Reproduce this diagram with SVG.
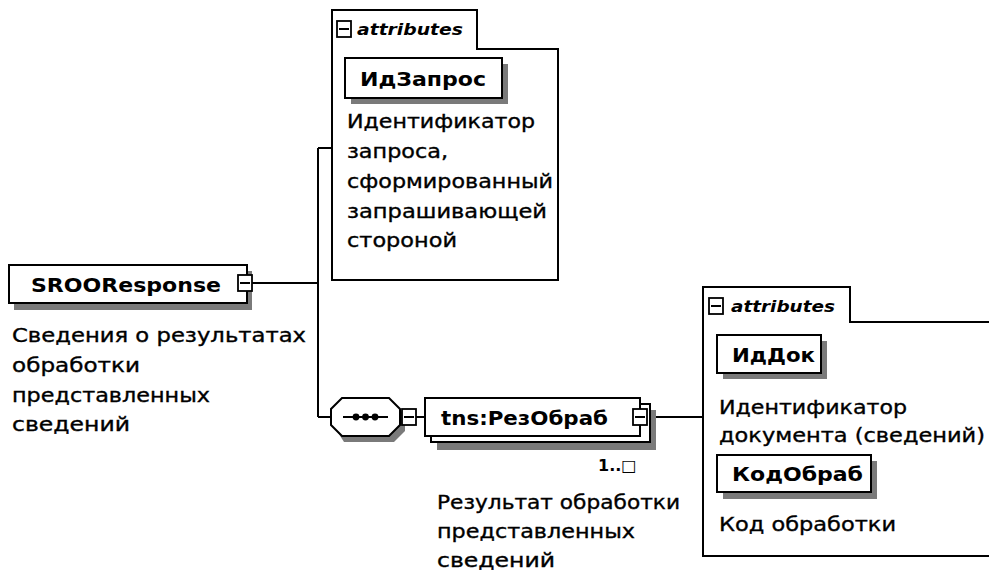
<svg xmlns="http://www.w3.org/2000/svg" width="989" height="587" viewBox="0 0 989 587">
<style>
.box{fill:#fff;stroke:#000;stroke-width:2}
.frame{fill:#fff;stroke:#000;stroke-width:2}
.shadow{fill:#7a7a7a}
.ln{stroke:#000;stroke-width:2;fill:none}
.icon{fill:#fff;stroke:#000;stroke-width:1.8}
.name{font-family:"DejaVu Sans",Verdana,sans-serif;font-weight:bold;font-size:20px;fill:#000}
.desc{font-family:"DejaVu Sans",Verdana,sans-serif;font-size:19px;fill:#000;stroke:#000;stroke-width:0.35}
.attr{font-family:"DejaVu Sans",Verdana,sans-serif;font-style:italic;font-weight:bold;font-size:15px;fill:#000}
.occ{font-family:"DejaVu Sans",Verdana,sans-serif;font-weight:bold;font-size:16px;fill:#000}
</style>
<defs>
<g id="minus">
<rect class="icon" x="0" y="0" width="14" height="16"/>
<line x1="2" y1="8" x2="12" y2="8" stroke="#000" stroke-width="2"/>
</g>
</defs>
<rect width="989" height="587" fill="#fff"/>

<g id="connectors">
<line class="ln" x1="252" y1="283" x2="318" y2="283"/>
<line class="ln" x1="318" y1="148" x2="318" y2="417"/>
<line class="ln" x1="318" y1="148" x2="332" y2="148"/>
<line class="ln" x1="318" y1="417" x2="331" y2="417"/>
<line class="ln" x1="416" y1="417" x2="425" y2="417"/>
<line class="ln" x1="647" y1="417" x2="703" y2="417"/>
</g>

<g id="SROOResponse">
<rect class="shadow" x="14" y="271" width="238" height="39"/>
<rect class="box" x="9" y="265" width="238" height="38"/>
<text class="name" x="31" y="292" textLength="190" lengthAdjust="spacingAndGlyphs">SROOResponse</text>
<use href="#minus" x="238" y="275"/>
<text class="desc" x="12" y="342" textLength="294" lengthAdjust="spacingAndGlyphs">Сведения о результатах</text>
<text class="desc" x="12" y="372" textLength="128" lengthAdjust="spacingAndGlyphs">обработки</text>
<text class="desc" x="12" y="402" textLength="198" lengthAdjust="spacingAndGlyphs">представленных</text>
<text class="desc" x="12" y="431" textLength="118" lengthAdjust="spacingAndGlyphs">сведений</text>
</g>

<g id="attributes1">
<path class="frame" d="M332,280 V10 H477 V49 H558 V280 Z"/>
<use href="#minus" x="337" y="21"/>
<text class="attr" x="357" y="35" textLength="106" lengthAdjust="spacingAndGlyphs">attributes</text>
</g>

<g id="IdZapros">
<rect class="shadow" x="351" y="64" width="157" height="40"/>
<rect class="box" x="345" y="58" width="157" height="40"/>
<text class="name" x="360" y="86" textLength="126" lengthAdjust="spacingAndGlyphs">ИдЗапрос</text>
<text class="desc" x="347" y="128" textLength="188" lengthAdjust="spacingAndGlyphs">Идентификатор</text>
<text class="desc" x="347" y="158" textLength="101" lengthAdjust="spacingAndGlyphs">запроса,</text>
<text class="desc" x="347" y="188" textLength="206" lengthAdjust="spacingAndGlyphs">сформированный</text>
<text class="desc" x="347" y="218" textLength="200" lengthAdjust="spacingAndGlyphs">запрашивающей</text>
<text class="desc" x="347" y="247" textLength="110" lengthAdjust="spacingAndGlyphs">стороной</text>
</g>

<g id="sequence">
<polygon class="shadow" points="344,404 394,404 405,415 405,431 394,442 344,442 337,431 337,415"/>
<polygon class="box" points="342,398 389,398 400,409 400,425 389,436 342,436 331,425 331,409"/>
<line class="ln" x1="343" y1="417" x2="388" y2="417"/>
<circle cx="356" cy="417" r="3.4"/>
<circle cx="365.5" cy="417" r="3.4"/>
<circle cx="375" cy="417" r="3.4"/>
<use href="#minus" x="402" y="409"/>
</g>

<g id="RezObrab">
<rect class="shadow" x="437" y="410" width="219" height="40"/>
<rect class="box" x="431" y="404" width="219" height="38"/>
<rect class="box" x="425" y="398" width="215" height="38"/>
<text class="name" x="441" y="425" textLength="167" lengthAdjust="spacingAndGlyphs">tns:РезОбраб</text>
<use href="#minus" x="633" y="409"/>
<text class="occ" x="598" y="471">1..□</text>
<text class="desc" x="437" y="509" textLength="243" lengthAdjust="spacingAndGlyphs">Результат обработки</text>
<text class="desc" x="437" y="538" textLength="198" lengthAdjust="spacingAndGlyphs">представленных</text>
<text class="desc" x="437" y="567" textLength="118" lengthAdjust="spacingAndGlyphs">сведений</text>
</g>

<g id="attributes2">
<path class="frame" d="M703,556 V287 H850 V322 H992 V556 Z"/>
<use href="#minus" x="709" y="298"/>
<text class="attr" x="731" y="312" textLength="104" lengthAdjust="spacingAndGlyphs">attributes</text>
</g>

<g id="IdDok">
<rect class="shadow" x="723" y="341" width="104" height="38"/>
<rect class="box" x="717" y="335" width="104" height="38"/>
<text class="name" x="732" y="362" textLength="83" lengthAdjust="spacingAndGlyphs">ИдДок</text>
<text class="desc" x="719" y="414" textLength="188" lengthAdjust="spacingAndGlyphs">Идентификатор</text>
<text class="desc" x="719" y="442" textLength="266" lengthAdjust="spacingAndGlyphs">документа (сведений)</text>
</g>

<g id="KodObrab">
<rect class="shadow" x="723" y="461" width="154" height="38"/>
<rect class="box" x="717" y="455" width="154" height="37"/>
<text class="name" x="732" y="481" textLength="131" lengthAdjust="spacingAndGlyphs">КодОбраб</text>
<text class="desc" x="719" y="531" textLength="177" lengthAdjust="spacingAndGlyphs">Код обработки</text>
</g>
</svg>
